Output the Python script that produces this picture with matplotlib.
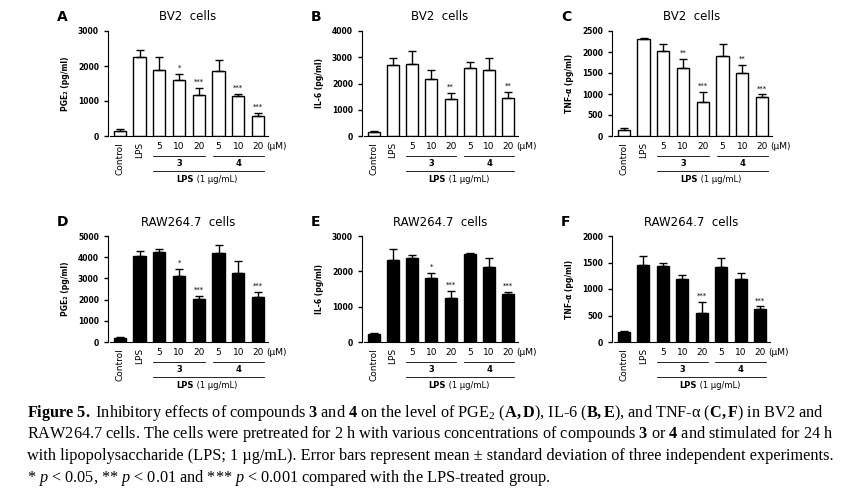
import matplotlib.pyplot as plt
import matplotlib.transforms as mtransforms

plt.rcParams['font.family'] = ['DejaVu Sans']
plt.rcParams['mathtext.fontset'] = 'custom'
plt.rcParams['mathtext.rm'] = 'Liberation Serif'
plt.rcParams['mathtext.bf'] = 'Liberation Serif:bold'
plt.rcParams['mathtext.it'] = 'Liberation Serif:italic'

groups = ['Control', 'LPS', '5', '10', '20', '5', '10', '20']

pge2_bv2 = [150, 2250, 1880, 1590, 1160, 1850, 1150, 560]
pge2_bv2_err = [40, 220, 370, 190, 220, 330, 60, 100]
pge2_bv2_sig = ['', '', '', '*', '***', '', '***', '***']

il6_bv2 = [150, 2700, 2750, 2180, 1420, 2580, 2510, 1440]
il6_bv2_err = [30, 280, 480, 350, 220, 230, 450, 230]
il6_bv2_sig = ['', '', '', '', '**', '', '', '**']

tnf_bv2 = [150, 2300, 2020, 1610, 800, 1910, 1500, 930]
tnf_bv2_err = [40, 30, 180, 230, 250, 290, 200, 60]
tnf_bv2_sig = ['', '', '', '**', '***', '', '**', '***']

pge2_raw = [200, 4040, 4250, 3130, 2030, 4210, 3270, 2110]
pge2_raw_err = [30, 260, 120, 330, 120, 350, 530, 250]
pge2_raw_sig = ['', '', '', '*', '***', '', '', '***']

il6_raw = [240, 2320, 2380, 1800, 1250, 2490, 2130, 1360]
il6_raw_err = [20, 310, 70, 160, 190, 40, 250, 60]
il6_raw_sig = ['', '', '', '*', '***', '', '', '***']

tnf_raw = [180, 1460, 1440, 1180, 540, 1420, 1190, 630]
tnf_raw_err = [20, 160, 60, 80, 220, 170, 120, 40]
tnf_raw_sig = ['', '', '', '', '***', '', '', '***']

W, H = 847, 495
fig = plt.figure(figsize=(W / 100, H / 100), dpi=100)


def panel(letter, title, rect, vals, errs, sig, ymax, step, ylabel, filled):
    x0, x1, ytop, ybot = rect
    ax = fig.add_axes([x0 / W, 1 - ybot / H, (x1 - x0) / W, (ybot - ytop) / H])
    xs = range(len(vals))
    ax.bar(xs, vals, width=0.62, color='black' if filled else 'white',
           edgecolor='black', linewidth=1.0)
    ax.errorbar(xs, vals, yerr=[[0] * len(errs), errs], fmt='none',
                ecolor='black', elinewidth=1.0, capsize=3, capthick=1.0)
    for x, v, e, s in zip(xs, vals, errs, sig):
        if s:
            ax.text(x, v + e + ymax * 0.03, s, ha='center', va='bottom', fontsize=5)
    ax.set_xlim(-0.6, 7.5)
    ax.set_ylim(0, ymax)
    ax.set_yticks(range(0, ymax + 1, step))
    ax.tick_params(axis='y', labelsize=5.5, length=3, width=1)
    for lab in ax.get_yticklabels():
        lab.set_fontweight('bold')
    ax.set_xticks([])
    ax.spines[['top', 'right']].set_visible(False)
    ax.spines['bottom'].set_bounds(-0.5, 7.5)
    ax.set_ylabel(ylabel, fontsize=5.5, fontweight='bold', labelpad=6)
    ph = ybot - ytop
    tr = mtransforms.blended_transform_factory(ax.transData, ax.transAxes)
    for x, g in enumerate(groups):
        if x < 2:
            ax.text(x, -6 / ph, g, rotation=90, ha='center', va='top',
                    fontsize=6.5, transform=tr)
        else:
            ax.text(x, -6 / ph, g, ha='center', va='top', fontsize=6.5, transform=tr)
    ax.text(7.4, -6 / ph, '(µM)', ha='left', va='top', fontsize=6.5, transform=tr)
    for a, b, n in [(1.7, 4.3, '3'), (4.7, 7.3, '4')]:
        ax.plot([a, b], [-20 / ph] * 2, color='black', lw=0.6, transform=tr, clip_on=False)
        ax.text((a + b) / 2, -23 / ph, n, ha='center', va='top', fontsize=6,
                fontweight='bold', transform=tr)
    ax.plot([1.7, 7.3], [-35 / ph] * 2, color='black', lw=0.6, transform=tr, clip_on=False)
    ax.text(3.75, -39 / ph, 'LPS', ha='right', va='top', fontsize=6,
            fontweight='bold', transform=tr)
    ax.text(3.75, -39 / ph, ' (1 µg/mL)', ha='left', va='top', fontsize=6, transform=tr)
    fig.text((x0 + x1) / 2 / W, 1 - (ytop - 14) / H, title, ha='center',
             va='center', fontsize=8.5)
    fig.text((x0 - 51) / W, 1 - (ytop - 14) / H, letter, ha='left', va='center',
             fontsize=10, fontweight='bold')
    return ax


panel('A', 'BV2  cells', (108, 268, 31, 136), pge2_bv2, pge2_bv2_err, pge2_bv2_sig,
      3000, 1000, 'PGE₂ (pg/ml)', False)
panel('B', 'BV2  cells', (362, 518, 31, 136), il6_bv2, il6_bv2_err, il6_bv2_sig,
      4000, 1000, 'IL-6 (pg/ml)', False)
panel('C', 'BV2  cells', (612, 772, 31, 136), tnf_bv2, tnf_bv2_err, tnf_bv2_sig,
      2500, 500, 'TNF-α (pg/ml)', False)
panel('D', 'RAW264.7  cells', (108, 268, 236, 342), pge2_raw, pge2_raw_err, pge2_raw_sig,
      5000, 1000, 'PGE₂ (pg/ml)', True)
panel('E', 'RAW264.7  cells', (362, 518, 236, 342), il6_raw, il6_raw_err, il6_raw_sig,
      3000, 1000, 'IL-6 (pg/ml)', True)
panel('F', 'RAW264.7  cells', (612, 770, 236, 342), tnf_raw, tnf_raw_err, tnf_raw_sig,
      2000, 500, 'TNF-α (pg/ml)', True)

caption = [
    r'$\mathbf{Figure\ 5.}$ Inhibitory effects of compounds $\mathbf{3}$ and $\mathbf{4}$ on the level of PGE$_2$ ($\mathbf{A,D}$), IL-6 ($\mathbf{B,E}$), and TNF-α ($\mathbf{C,F}$) in BV2 and',
    r'RAW264.7 cells. The cells were pretreated for 2 h with various concentrations of compounds $\mathbf{3}$ or $\mathbf{4}$ and stimulated for 24 h',
    'with lipopolysaccharide (LPS; 1 µg/mL). Error bars represent mean ± standard deviation of three independent experiments.',
    r'* $p$ < 0.05, ** $p$ < 0.01 and *** $p$ < 0.001 compared with the LPS-treated group.',
]
for i, line in enumerate(caption):
    fig.text(27 / W, 1 - (413 + i * 21.5) / H, line, ha='left', va='center',
             fontsize=11.7, family='Liberation Serif')

fig.savefig('out.png', dpi=100)
